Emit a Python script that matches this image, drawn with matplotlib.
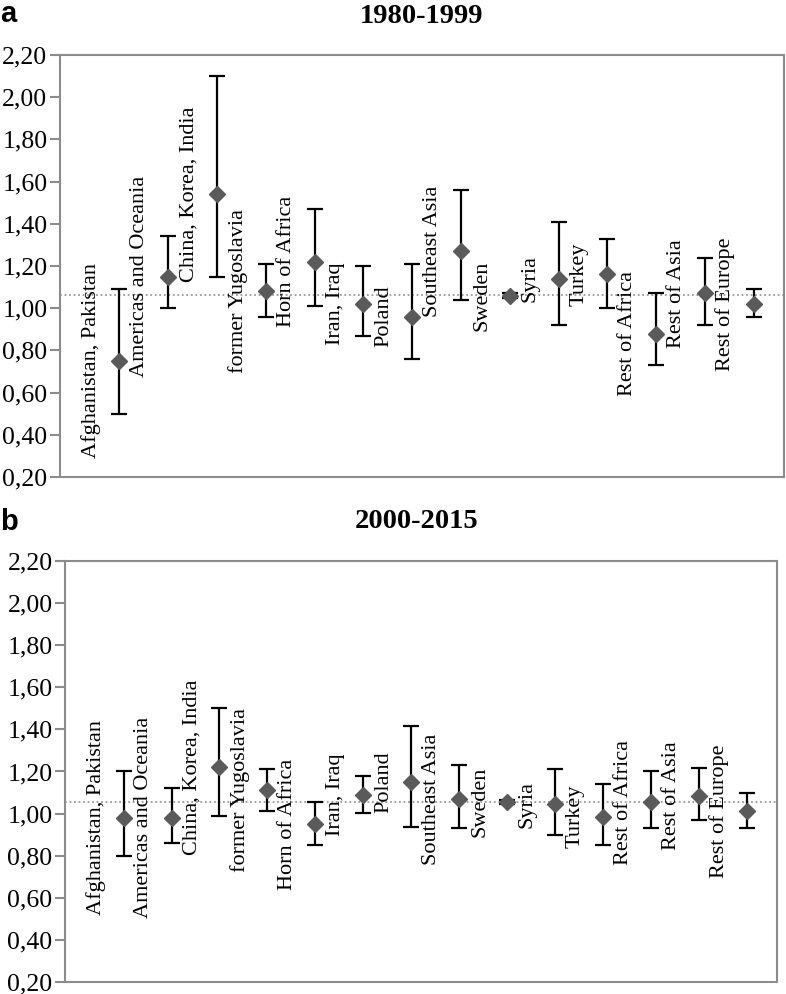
import matplotlib
matplotlib.use("Agg")
import matplotlib.pyplot as plt
from matplotlib.ticker import FuncFormatter
import numpy as np

# regions, in the order of the points
regions = ["Afghanistan, Pakistan", "Americas and Oceania", "China, Korea, India",
           "former Yugoslavia", "Horn of Africa", "Iran, Iraq", "Poland",
           "Southeast Asia", "Sweden", "Syria", "Turkey", "Rest of Africa",
           "Rest of Asia", "Rest of Europe"]

# 1980-1999: estimate, lower and upper limit
est_a = [0.75, 1.15, 1.54, 1.08, 1.22, 1.02, 0.96, 1.27, 1.06, 1.14, 1.16, 0.88, 1.07, 1.02]
low_a = [0.50, 1.00, 1.15, 0.96, 1.01, 0.87, 0.76, 1.04, 1.05, 0.92, 1.00, 0.73, 0.92, 0.96]
up_a  = [1.09, 1.34, 2.10, 1.21, 1.47, 1.20, 1.21, 1.56, 1.07, 1.41, 1.33, 1.07, 1.24, 1.09]
ref_a = 1.063

# 2000-2015
est_b = [0.98, 0.98, 1.22, 1.11, 0.95, 1.09, 1.15, 1.07, 1.055, 1.045, 0.985, 1.055, 1.085, 1.01]
low_b = [0.80, 0.86, 0.99, 1.01, 0.85, 1.005, 0.935, 0.93, 1.045, 0.90, 0.85, 0.93, 0.97, 0.93]
up_b  = [1.20, 1.12, 1.50, 1.21, 1.055, 1.18, 1.415, 1.23, 1.065, 1.21, 1.14, 1.20, 1.215, 1.10]
ref_b = 1.053

serif = "Liberation Serif"
grey = "#8c8c8c"

fig = plt.figure(figsize=(7.86, 9.94), dpi=100)
ax1 = fig.add_axes([0.0763, 0.5201, 0.9212, 0.4246])
ax2 = fig.add_axes([0.0827, 0.0121, 0.9058, 0.4235])


def draw_panel(ax, est, low, up, ref):
    x = np.arange(len(regions))
    est = np.array(est)
    yerr = [est - np.array(low), np.array(up) - est]
    ax.axhline(ref, color="#9a9a9a", linestyle=(0, (1, 1.5)), lw=1.3, zorder=1)
    ax.errorbar(x, est, yerr=yerr, fmt="D", color="#5a5a5a", markersize=8.5,
                ecolor="black", elinewidth=1.6, capsize=5.5, capthick=1.6, zorder=3)
    # labels sit left of each point, centred on its value
    for xi, yi, name in zip(x, est, regions):
        ax.text(xi - 0.58, yi, name, rotation=90, ha="center", va="center",
                family=serif, fontsize=16, zorder=4)
    ax.set_xlim(-1.22, len(regions) - 1 + 0.62)
    ax.set_ylim(0.2, 2.2)
    ax.set_yticks(np.arange(0.2, 2.21, 0.2))
    ax.yaxis.set_major_formatter(FuncFormatter(lambda v, p: ("%.2f" % v).replace(".", ",")))
    ax.set_xticks([])
    ax.tick_params(axis="y", direction="out", length=7, width=1.5, color=grey, pad=2,
                   labelsize=18.5)
    for lab in ax.get_yticklabels():
        lab.set_family(serif)
    for s in ax.spines.values():
        s.set_color(grey)
        s.set_linewidth(1.5)


draw_panel(ax1, est_a, low_a, up_a, ref_a)
draw_panel(ax2, est_b, low_b, up_b, ref_b)

fig.text(0.536, 0.983, "1980-1999", ha="center", va="center", family=serif,
         fontweight="bold", fontsize=20.5)
fig.text(0.53, 0.475, "2000-2015", ha="center", va="center", family=serif,
         fontweight="bold", fontsize=20.5)
fig.text(0.0, 1.0, "a", ha="left", va="top", family="Liberation Sans",
         fontweight="bold", fontsize=21)
fig.text(0.0, 0.489, "b", ha="left", va="top", family="Liberation Sans",
         fontweight="bold", fontsize=21)

fig.savefig("out.png", dpi=100)
